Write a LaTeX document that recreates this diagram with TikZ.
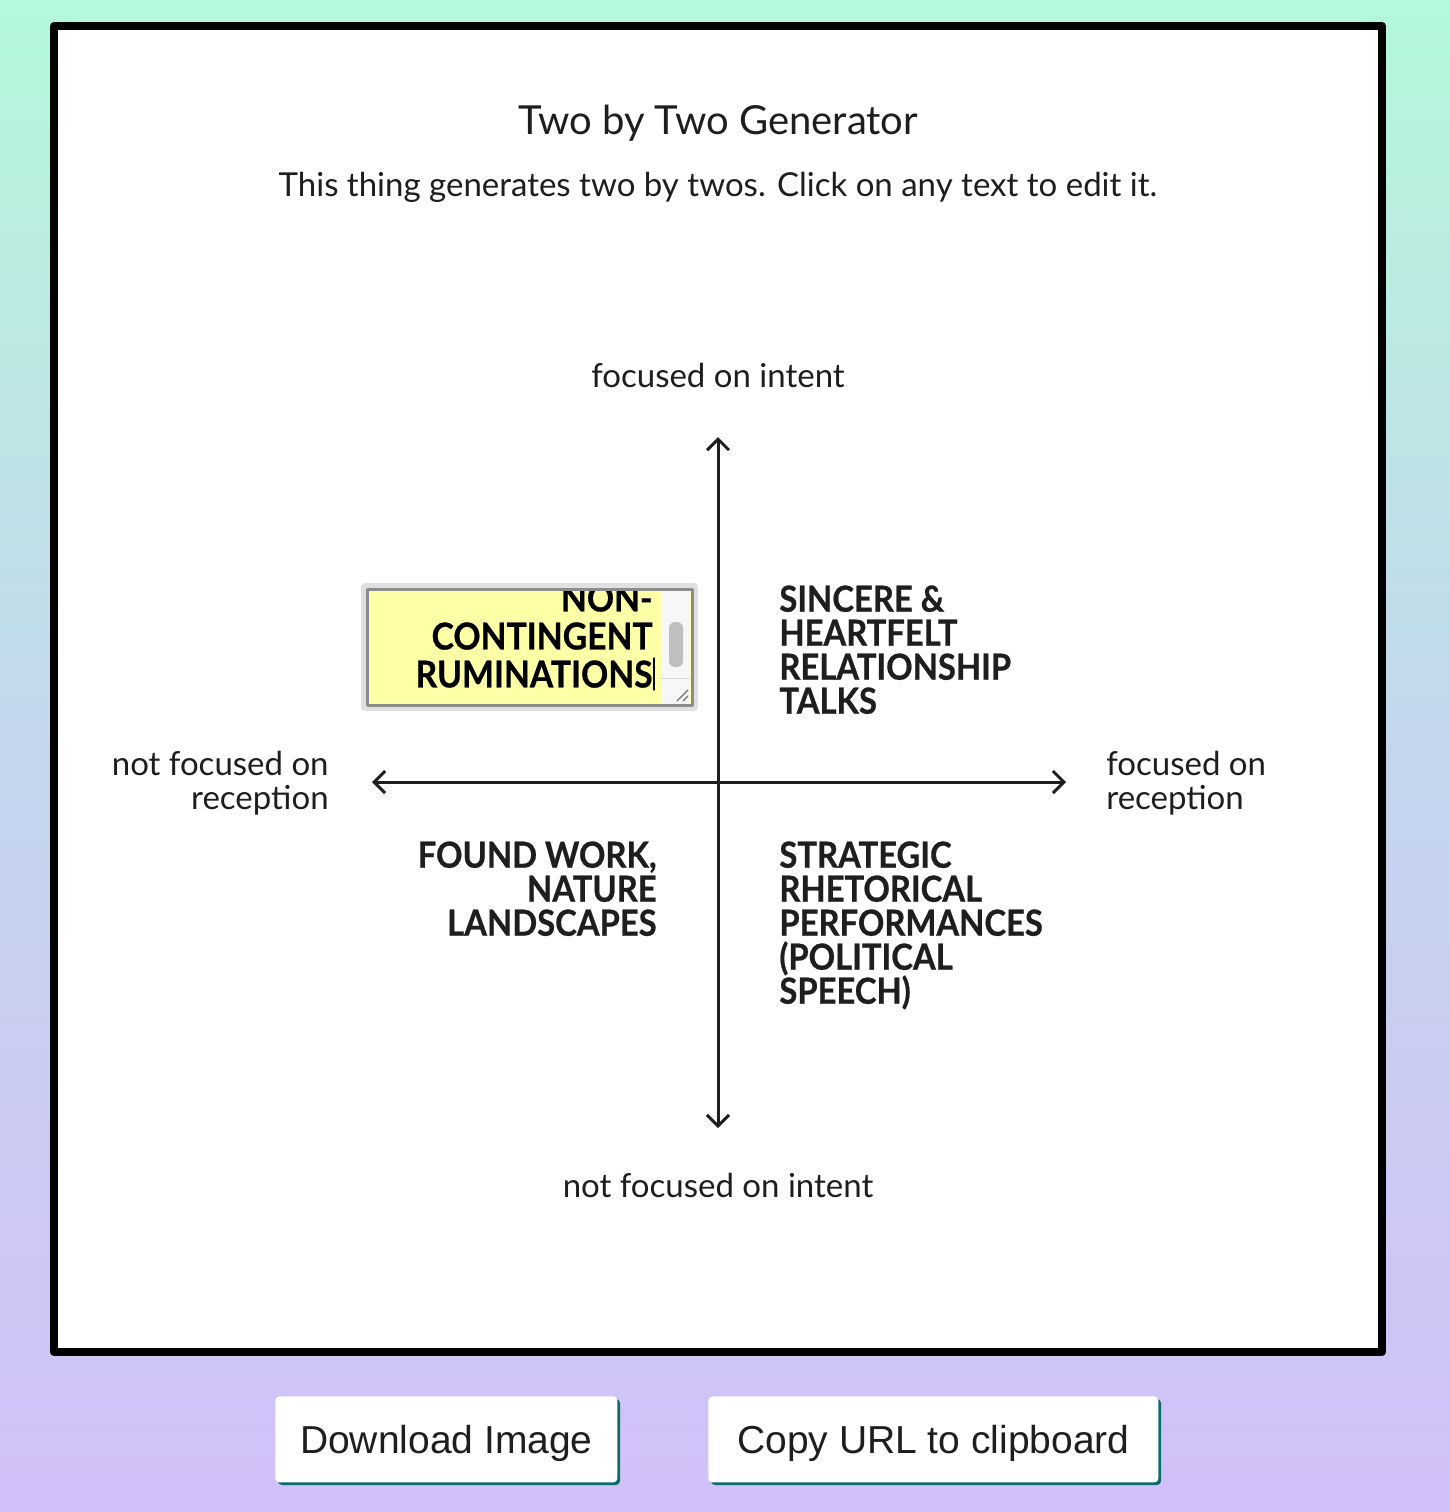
\documentclass[tikz,border=0pt]{standalone}
\usepackage{fontspec}
\setmainfont{Lato}
\newfontfamily\btnfont{Liberation Sans}
\newfontfamily\quadfont{Lato}[FakeStretch=0.91,FakeBold=0.6]
\usepackage{tikz}
\usetikzlibrary{arrows.meta}
\definecolor{mint}{HTML}{B5F8DA}
\definecolor{sky}{HTML}{C4D6EE}
\definecolor{lilac}{HTML}{D2C0F8}
\definecolor{ink}{HTML}{1E1E1E}
\definecolor{note}{HTML}{FFFFA8}
\definecolor{teal}{HTML}{0C6B6B}

\begin{document}
\begin{tikzpicture}[line cap=round,line join=round,x=0.5pt,y=-0.5pt,
	axis/.style={line width=1.5pt,draw=ink,{Straight Barb[length=5.5pt,width=11pt]}-{Straight Barb[length=5.5pt,width=11pt]}},
	plain/.style={text=ink,inner sep=0pt,font=\fontsize{16.5}{17}\selectfont},
	quad/.style={text=ink,inner sep=0pt,font=\quadfont\fontsize{18}{17}\selectfont\bfseries},
	button/.style={fill=white,rounded corners=2pt,minimum width=171pt,minimum height=43pt,inner sep=0pt,text height=16pt,text depth=2pt,font=\btnfont\fontsize{19.5}{20}\selectfont,text=ink}]
	\useasboundingbox (0,0) rectangle (1450,1512);
	% background and frame
	\shade[top color=mint,bottom color=lilac,middle color=sky] (0,0) rectangle (1450,1512);
	\draw[line width=4pt,fill=white] (54,26) rectangle (1382,1352);
	% headings
	\node[plain,font=\fontsize{20}{22}\selectfont] (title) at (718,123) {Two by Two Generator};
	\node[plain] (subtitle) at (718,187) {This thing generates two by twos. Click on any text to edit it.};
	% axes
	\coordinate (up) at (718,437);
	\coordinate (down) at (718,1128);
	\coordinate (left) at (372,782);
	\coordinate (right) at (1066,782);
	\draw[axis] (up) -- (down);
	\draw[axis] (left) -- (right);
	% axis labels
	\node[plain] (intent) at (718,375) {focused on intent};
	\node[plain] (nointent) at (718,1185) {not focused on intent};
	\node[plain,align=right,anchor=north east] (norecep) at (329,751) {not focused on\\reception};
	\node[plain,align=left,anchor=north west] (recep) at (1106,751) {focused on\\reception};
	% quadrants
	\node[quad,align=left,anchor=north west] (topright) at (779,585) {SINCERE \&\\HEARTFELT\\RELATIONSHIP\\TALKS};
	\node[quad,align=right,anchor=north east] (botleft) at (657,841) {FOUND WORK,\\NATURE\\LANDSCAPES};
	\node[quad,align=left,anchor=north west] (botright) at (779,841) {STRATEGIC\\RHETORICAL\\PERFORMANCES\\(POLITICAL\\SPEECH)};
	% text box being edited
	\draw[line width=4pt,black!12] (365,587) rectangle (694,707);
	\draw[line width=1.5pt,draw=black!45,fill=note] (367,589) rectangle (692,705);
	\fill[black!3] (661,591) rectangle (690,703);
	\draw[line width=0.5pt,black!15] (661,678) -- (690,678);
	\fill[black!25,rounded corners=3pt] (669,622) rectangle (683,667);
	\draw[line width=0.6pt,black!55] (677,701) -- (688,690) (683,701) -- (688,696);
	\begin{scope}
		\clip (369,591) rectangle (660,704);
		\node[quad,font=\quadfont\fontsize{18.5}{19}\selectfont\bfseries,text=black,align=right,anchor=north east] (topleft) at (653,584) {NON-\\CONTINGENT\\RUMINATIONS};
	\end{scope}
	\draw[line width=0.6pt] (654,658) -- (654,690);
	% buttons
	\fill[teal,rounded corners=2pt] (278,1399) rectangle (620,1485);
	\node[button,anchor=north west] (download) at (275,1396) {Download Image};
	\fill[teal,rounded corners=2pt] (711,1399) rectangle (1161,1485);
	\node[button,anchor=north west,minimum width=225pt] (copyurl) at (708,1396) {Copy URL to clipboard};
\end{tikzpicture}
\end{document}
